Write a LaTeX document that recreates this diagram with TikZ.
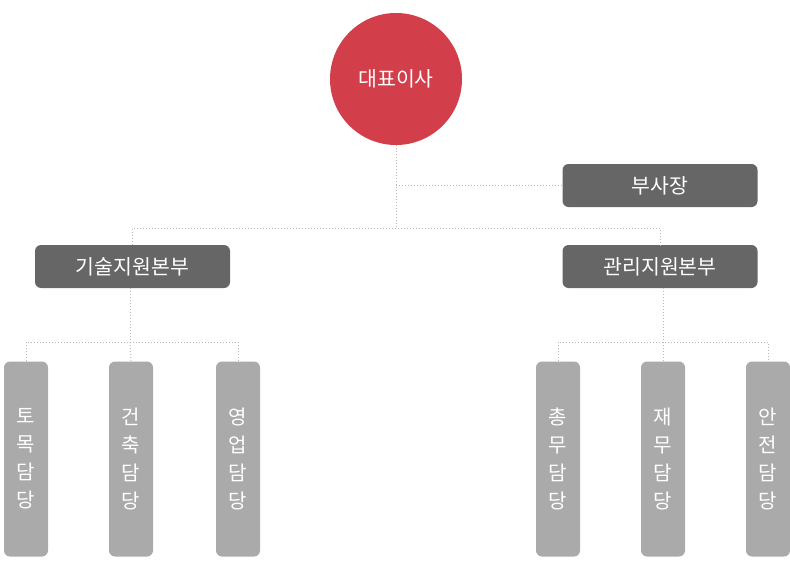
\documentclass[tikz,border=0pt]{standalone}
\usepackage{fontspec}
\setmainfont{Noto Sans CJK KR}
\usepackage{xcolor}
\usetikzlibrary{positioning, calc}
\definecolor{ceored}{RGB}{210,62,74}
\definecolor{headgray}{RGB}{102,102,102}
\definecolor{teamgray}{RGB}{170,170,170}
\definecolor{linkgray}{RGB}{185,185,185}

\begin{document}
\begin{tikzpicture}[x=1pt, y=-1pt,
    ceo/.style={circle, fill=ceored, minimum size=132pt, inner sep=0pt,
                text=white, font=\fontsize{20.5}{24}\selectfont},
    head/.style={rectangle, rounded corners=6pt, fill=headgray, minimum width=195pt,
                 minimum height=43pt, inner sep=0pt, text=white, font=\fontsize{20.5}{24}\selectfont},
    team/.style={rectangle, rounded corners=6pt, fill=teamgray, minimum width=44pt,
                 minimum height=195pt, inner sep=0pt, text=white, align=center,
                 font=\fontsize{20}{28}\selectfont},
    link/.style={draw=linkgray, line width=1pt, dash pattern=on 1pt off 2pt}
]
\useasboundingbox (0,0) rectangle (790,578);
\node[ceo] (boss) at (396,79) {대표이사};
\node[head] (vice) at (660,185.5) {부사장};
\node[head] (tech) at (132.5,266.5) {기술지원본부};
\node[head] (admin) at (660,266.5) {관리지원본부};
% teams
\node[team] (civil) at (26,459) {토\\목\\담\\당};
\node[team] (build) at (131,459) {건\\축\\담\\당};
\node[team] (sales) at (238,459) {영\\업\\담\\당};
\node[team] (general) at (558,459) {총\\무\\담\\당};
\node[team] (finance) at (663,459) {재\\무\\담\\당};
\node[team] (safety) at (768,459) {안\\전\\담\\당};
% connectors
\coordinate (split) at (396,228);
\coordinate (techsplit) at (130,342);
\coordinate (adminsplit) at (663,342);
\draw[link] (boss) -- (split);
\draw[link] (boss.south |- vice) -- (vice.west);
\draw[link] (tech.north) |- (split) -| (admin.north);
\draw[link] (tech.south -| techsplit) -- (techsplit);
\draw[link] (civil.north) |- (techsplit) -| (sales.north);
\draw[link] (techsplit) -- (build.north);
\draw[link] (admin.south -| adminsplit) -- (adminsplit);
\draw[link] (general.north) |- (adminsplit) -| (safety.north);
\draw[link] (adminsplit) -- (finance.north);
\end{tikzpicture}
\end{document}
